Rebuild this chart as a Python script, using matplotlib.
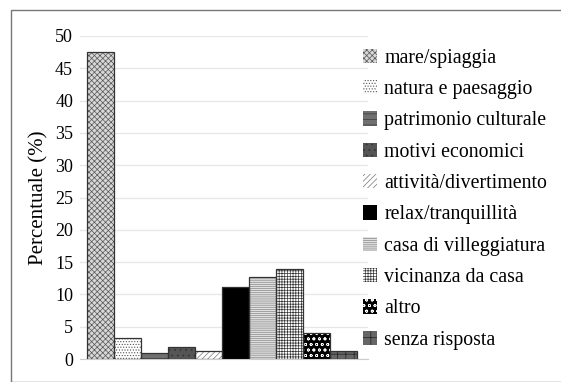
import matplotlib
matplotlib.use("Agg")
import matplotlib.pyplot as plt
from matplotlib.patches import Rectangle

plt.rcParams['font.family'] = ['Liberation Serif', 'DejaVu Serif']
plt.rcParams['hatch.linewidth'] = 0.5

# Dati
categorie = ['mare/spiaggia', 'natura e paesaggio', 'patrimonio culturale',
             'motivi economici', 'attività/divertimento', 'relax/tranquillità',
             'casa di villeggiatura', 'vicinanza da casa', 'altro', 'senza risposta']
valori = [47.5, 3.2, 0.9, 1.8, 1.3, 11.2, 12.7, 14.0, 4.1, 1.3]

# Stili delle barre (riempimento, tratteggio, colore tratteggio)
stili = [
    ('#d8d8d8', 'xxxxxx', '#555555'),
    ('#ffffff', '......', '#555555'),
    ('#707070', '---', '#3a3a3a'),
    ('#555555', '...', '#333333'),
    ('#ffffff', '//////', '#777777'),
    ('#000000', '', '#000000'),
    ('#e0e0e0', '--------', '#888888'),
    ('#ffffff', '++++++', '#333333'),
    ('#000000', 'ooo', '#ffffff'),
    ('#666666', '++', '#222222'),
]

fig = plt.figure(figsize=(5.61, 3.82), dpi=100)
ax = fig.add_axes([80 / 561, 1 - 359 / 382, 288 / 561, 323 / 382])

for i, (v, (fc, h, hc)) in enumerate(zip(valori, stili)):
    ax.bar(i, v, width=1.0, color=fc, hatch=h, edgecolor=hc,
           linewidth=0.0, label=categorie[i], zorder=3)
    ax.bar(i, v, width=1.0, fill=False, edgecolor='#333333',
           linewidth=0.9, zorder=4)

ax.set_ylim(0, 50)
ax.set_xlim(-0.76, 9.9)
ax.set_yticks(range(0, 51, 5))
ax.set_xticks([])
ax.tick_params(axis='y', length=0, labelsize=13, pad=5)
ax.grid(axis='y', color='#e6e6e6', linewidth=0.9, zorder=0)
for s in ['top', 'right', 'left']:
    ax.spines[s].set_visible(False)
ax.spines['bottom'].set_color('#cccccc')
ax.set_ylabel('Percentuale (%)', fontsize=15, labelpad=5)

ax.legend(loc='upper left', bbox_to_anchor=(0.955, 0.985), frameon=False,
          fontsize=14.3, labelspacing=0.62, handlelength=0.72, handleheight=0.72,
          handletextpad=0.35, borderaxespad=0.0)

# cornice esterna
fig.patches.append(Rectangle((11 / 561, 0), 1.2, 1 - 10 / 382,
                             transform=fig.transFigure, fill=False,
                             edgecolor='#777777', linewidth=1.0))

fig.savefig('out.png', dpi=100)
